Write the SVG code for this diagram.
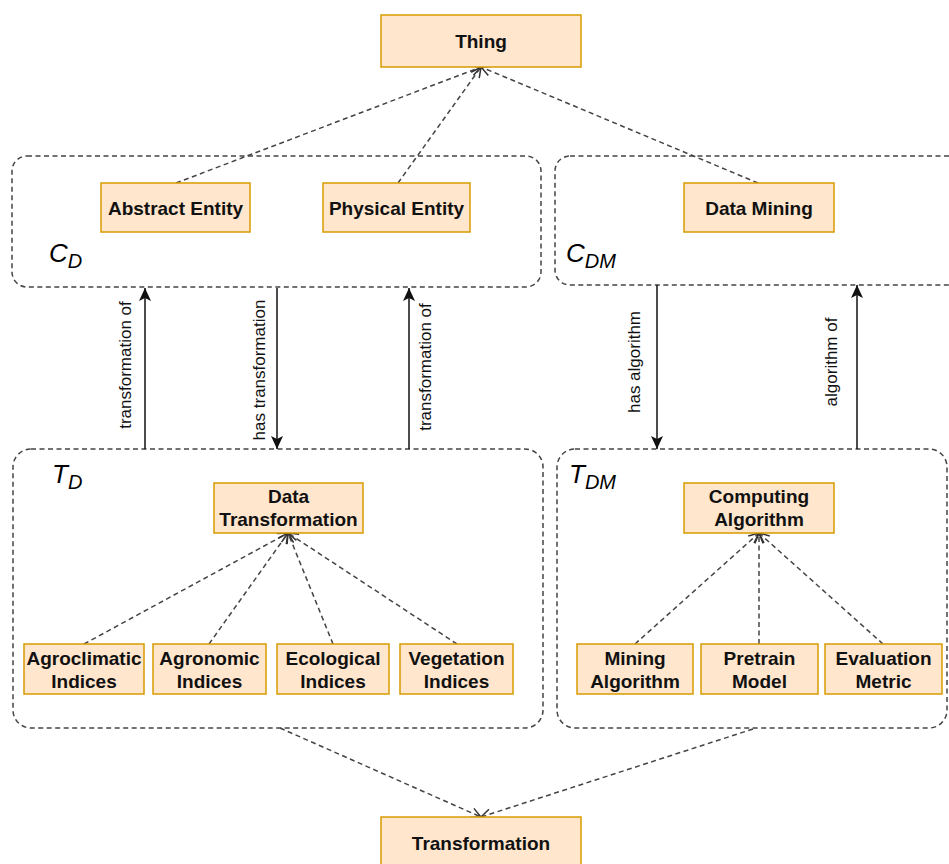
<svg xmlns="http://www.w3.org/2000/svg" width="949" height="864" viewBox="0 0 949 864">
  <defs>
    <style>
      .node rect { fill: #ffe6cc; stroke: #d79b00; stroke-width: 1.5; }
      .node text { font-family: "Liberation Sans", Arial, sans-serif; font-size: 19px; font-weight: bold; fill: #111; text-anchor: middle; }
      .group { fill: none; stroke: #444; stroke-width: 1.5; stroke-dasharray: 5 3.5; }
      .glabel { font-family: "Liberation Sans", Arial, sans-serif; font-style: italic; fill: #000; }
      .dep { fill: none; stroke: #444; stroke-width: 1.5; stroke-dasharray: 5 3.5; marker-end: url(#open); }
      .rel { fill: none; stroke: #111; stroke-width: 1.5; marker-end: url(#block); }
      .rlabel { font-family: "Liberation Sans", Arial, sans-serif; font-size: 17px; fill: #111; text-anchor: middle; }
    </style>
    <marker id="open" viewBox="0 0 12 12" refX="11" refY="6" markerWidth="12" markerHeight="12" markerUnits="userSpaceOnUse" orient="auto">
      <path d="M1,1 L11,6 L1,11" fill="none" stroke="#333" stroke-width="1.5"/>
    </marker>
    <marker id="block" viewBox="0 0 14 12" refX="13" refY="6" markerWidth="14" markerHeight="12" markerUnits="userSpaceOnUse" orient="auto">
      <path d="M0,0 L13,6 L0,12 L3,6 Z" fill="#111"/>
    </marker>
  </defs>

  <!-- group containers -->
  <g id="containers">
    <g id="group-CD">
      <rect class="group" x="12" y="156" width="529" height="131" rx="15" ry="15"/>
      <text class="glabel" x="49" y="262" font-size="26">C<tspan font-size="20" dy="6">D</tspan></text>
    </g>
    <g id="group-CDM">
      <rect class="group" x="555" y="156" width="410" height="129" rx="15" ry="15"/>
      <text class="glabel" x="566" y="262" font-size="26">C<tspan font-size="20" dy="6">DM</tspan></text>
    </g>
    <g id="group-TD">
      <rect class="group" x="13" y="449" width="530" height="279" rx="18" ry="18"/>
      <text class="glabel" x="52" y="483" font-size="26">T<tspan font-size="20" dy="6">D</tspan></text>
    </g>
    <g id="group-TDM">
      <rect class="group" x="557" y="449" width="390" height="279" rx="18" ry="18"/>
      <text class="glabel" x="569" y="483" font-size="26">T<tspan font-size="20" dy="6">DM</tspan></text>
    </g>
  </g>

  <!-- connectors -->
  <g id="connectors">
    <path class="dep" d="M176,183 L481,67"/>
    <path class="dep" d="M398,183 L481,67"/>
    <path class="dep" d="M758,183 L481,67"/>

    <path class="dep" d="M84,644 L288,533"/>
    <path class="dep" d="M209,644 L288,533"/>
    <path class="dep" d="M333,644 L288,533"/>
    <path class="dep" d="M457,644 L288,533"/>

    <path class="dep" d="M635,644 L759,533"/>
    <path class="dep" d="M759,644 L759,533"/>
    <path class="dep" d="M883,644 L759,533"/>

    <path class="dep" d="M280,728 L481,817"/>
    <path class="dep" d="M753,729 L481,817"/>

    <path class="rel" d="M145,449 L145,288"/>
    <path class="rel" d="M277,288 L277,449"/>
    <path class="rel" d="M409,449 L409,288"/>
    <path class="rel" d="M657,285 L657,449"/>
    <path class="rel" d="M857,449 L857,285"/>

    <text class="rlabel" transform="translate(131,365) rotate(-90)">transformation of</text>
    <text class="rlabel" transform="translate(265,370) rotate(-90)">has transformation</text>
    <text class="rlabel" transform="translate(431,367) rotate(-90)">transformation of</text>
    <text class="rlabel" transform="translate(640,362) rotate(-90)">has algorithm</text>
    <text class="rlabel" transform="translate(837,362) rotate(-90)">algorithm of</text>
  </g>

  <!-- nodes -->
  <g id="thing" class="node">
    <rect x="381" y="15" width="200" height="52"/>
    <text x="481" y="48">Thing</text>
  </g>
  <g id="abstract-entity" class="node">
    <rect x="101" y="183" width="149" height="49"/>
    <text x="175.5" y="214.5">Abstract Entity</text>
  </g>
  <g id="physical-entity" class="node">
    <rect x="323" y="183" width="147" height="49"/>
    <text x="396.5" y="214.5">Physical Entity</text>
  </g>
  <g id="data-mining" class="node">
    <rect x="684" y="183" width="150" height="49"/>
    <text x="759" y="214.5">Data Mining</text>
  </g>
  <g id="data-transformation" class="node">
    <rect x="214" y="483" width="149" height="50"/>
    <text x="288.5" y="503">Data</text>
    <text x="288.5" y="526">Transformation</text>
  </g>
  <g id="computing-algorithm" class="node">
    <rect x="684" y="483" width="150" height="50"/>
    <text x="759" y="503">Computing</text>
    <text x="759" y="526">Algorithm</text>
  </g>
  <g id="agroclimatic-indices" class="node">
    <rect x="24" y="644" width="120" height="50"/>
    <text x="84" y="665">Agroclimatic</text>
    <text x="84" y="688">Indices</text>
  </g>
  <g id="agronomic-indices" class="node">
    <rect x="153" y="644" width="113" height="50"/>
    <text x="209.5" y="665">Agronomic</text>
    <text x="209.5" y="688">Indices</text>
  </g>
  <g id="ecological-indices" class="node">
    <rect x="277" y="644" width="112" height="50"/>
    <text x="333" y="665">Ecological</text>
    <text x="333" y="688">Indices</text>
  </g>
  <g id="vegetation-indices" class="node">
    <rect x="400" y="644" width="113" height="50"/>
    <text x="456.5" y="665">Vegetation</text>
    <text x="456.5" y="688">Indices</text>
  </g>
  <g id="mining-algorithm" class="node">
    <rect x="577" y="644" width="116" height="50"/>
    <text x="635" y="665">Mining</text>
    <text x="635" y="688">Algorithm</text>
  </g>
  <g id="pretrain-model" class="node">
    <rect x="701" y="644" width="117" height="50"/>
    <text x="759.5" y="665">Pretrain</text>
    <text x="759.5" y="688">Model</text>
  </g>
  <g id="evaluation-metric" class="node">
    <rect x="825" y="644" width="117" height="50"/>
    <text x="883.5" y="665">Evaluation</text>
    <text x="883.5" y="688">Metric</text>
  </g>
  <g id="transformation" class="node">
    <rect x="381" y="817" width="200" height="52"/>
    <text x="481" y="850">Transformation</text>
  </g>
</svg>
